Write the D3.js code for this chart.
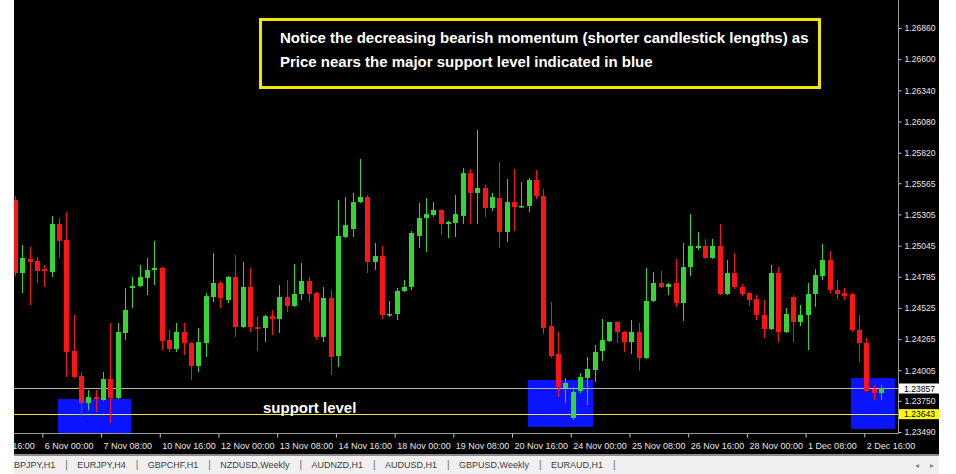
<!DOCTYPE html>
<html>
<head>
<meta charset="utf-8">
<script src="https://cdn.jsdelivr.net/npm/d3@7"></script>
<style>
  html, body { margin: 0; padding: 0; background: #ffffff; }
  svg { display: block; }
</style>
</head>
<body>
<div id="chart"></div>
<script>
// ---------------- DATA ----------------
// H4 candles, index 0 .. 118 (oldest to newest)
const opens = [
  1.25425,1.24816,1.24933,1.24917,1.24849,1.24824,1.25225,1.25092,1.24166,1.23957,
  1.23732,1.23782,1.23757,1.23932,1.23774,1.24316,1.24691,1.24708,1.24775,1.24841,
  1.24858,1.24257,1.24182,1.24324,1.24232,1.24041,1.24232,1.24616,1.24733,1.24591,
  1.24783,1.24366,1.24700,1.24366,1.24358,1.24457,1.24432,1.24616,1.24541,1.24641,
  1.24750,1.24649,1.24283,1.24608,1.24124,1.25117,1.25183,1.25408,1.25450,1.24908,
  1.24958,1.24466,1.24474,1.24666,1.24700,1.25125,1.25275,1.25300,1.25342,1.25225,
  1.25233,1.25292,1.25650,1.25484,1.25526,1.25358,1.25442,1.25158,1.25408,1.25367,
  1.25375,1.25592,1.25458,1.24374,1.24141,1.23857,1.23607,1.23832,1.23940,1.24007,
  1.24166,1.24249,1.24408,1.24324,1.24240,1.24324,1.24107,1.24583,1.24733,1.24700,
  1.24733,1.24566,1.24866,1.25025,1.25042,1.24942,1.25042,1.24641,1.24816,1.24700,
  1.24649,1.24599,1.24466,1.24349,1.24816,1.24324,1.24616,1.24408,1.24466,1.24641,
  1.24791,1.24925,1.24674,1.24649,1.24641,1.24341,1.24232,1.23849,1.23815
];
const highs = [
  1.25458,1.25050,1.25034,1.24950,1.24883,1.25292,1.25275,1.25325,1.24466,1.23990,
  1.23840,1.23840,1.23990,1.24399,1.24399,1.24691,1.24783,1.24883,1.24942,1.25084,
  1.24866,1.24341,1.24399,1.24399,1.24240,1.24358,1.24649,1.24983,1.24750,1.24791,
  1.24966,1.24908,1.24858,1.24450,1.24466,1.24508,1.24716,1.24758,1.24892,1.24900,
  1.24783,1.24658,1.24700,1.24674,1.25425,1.25450,1.25484,1.25767,1.25467,1.25067,
  1.25042,1.24583,1.24691,1.24758,1.25167,1.25400,1.25442,1.25408,1.25350,1.25250,
  1.25467,1.25692,1.25684,1.26009,1.25551,1.25484,1.25742,1.25600,1.25684,1.25575,
  1.25609,1.25675,1.25517,1.24574,1.24324,1.23940,1.23865,1.23982,1.24116,1.24216,
  1.24432,1.24408,1.24416,1.24332,1.24424,1.24399,1.24858,1.24824,1.24833,1.24733,
  1.24933,1.25067,1.25308,1.25158,1.25100,1.25100,1.25225,1.24925,1.24983,1.24724,
  1.24658,1.24632,1.24591,1.24883,1.24866,1.24525,1.24632,1.24549,1.24733,1.24849,
  1.25058,1.25000,1.24758,1.24691,1.24649,1.24466,1.24274,1.23882,1.23882
];
const lows = [
  1.24791,1.24649,1.24549,1.24733,1.24700,1.24783,1.24942,1.23949,1.23940,1.23615,
  1.23673,1.23656,1.23749,1.23565,1.23766,1.24257,1.24525,1.24700,1.24632,1.24716,
  1.24174,1.24157,1.24157,1.24132,1.23924,1.23990,1.24116,1.24574,1.24525,1.24566,
  1.24283,1.24358,1.24324,1.24166,1.24240,1.24299,1.24316,1.24491,1.24533,1.24591,
  1.24574,1.24257,1.24240,1.23965,1.24033,1.25108,1.25117,1.25400,1.24816,1.24841,
  1.24432,1.24449,1.24424,1.24658,1.24674,1.25025,1.24992,1.25283,1.25133,1.25108,
  1.25117,1.25225,1.25225,1.25225,1.25283,1.25333,1.25025,1.25075,1.25167,1.25358,
  1.25325,1.25434,1.24308,1.24107,1.23782,1.23732,1.23590,1.23815,1.23715,1.23907,
  1.24082,1.24240,1.24232,1.24157,1.24141,1.23999,1.24099,1.24574,1.24691,1.24632,
  1.24533,1.24416,1.24791,1.25008,1.24933,1.24933,1.24632,1.24632,1.24683,1.24624,
  1.24541,1.24424,1.24274,1.24341,1.24240,1.24316,1.24240,1.24374,1.24174,1.24533,
  1.24758,1.24649,1.24599,1.24591,1.24324,1.24074,1.23824,1.23757,1.23757
];
const closes = [
  1.24816,1.24942,1.24908,1.24833,1.24833,1.25225,1.25084,1.24157,1.23949,1.23732,
  1.23782,1.23765,1.23932,1.23774,1.24324,1.24508,1.24708,1.24783,1.24841,1.24858,
  1.24249,1.24182,1.24324,1.24232,1.24041,1.24240,1.24624,1.24733,1.24608,1.24783,
  1.24366,1.24700,1.24366,1.24349,1.24457,1.24432,1.24616,1.24541,1.24641,1.24750,
  1.24641,1.24283,1.24608,1.24116,1.25125,1.25216,1.25408,1.25450,1.24908,1.24958,
  1.24466,1.24474,1.24666,1.24700,1.25150,1.25275,1.25308,1.25342,1.25225,1.25242,
  1.25308,1.25650,1.25484,1.25526,1.25358,1.25450,1.25158,1.25408,1.25367,1.25375,
  1.25592,1.25458,1.24358,1.24124,1.23865,1.23899,1.23824,1.23949,1.24016,1.24157,
  1.24257,1.24408,1.24324,1.24240,1.24324,1.24107,1.24583,1.24733,1.24700,1.24724,
  1.24566,1.24866,1.25042,1.25042,1.24942,1.25042,1.24641,1.24816,1.24700,1.24641,
  1.24591,1.24466,1.24349,1.24816,1.24324,1.24474,1.24408,1.24466,1.24641,1.24799,
  1.24925,1.24674,1.24641,1.24624,1.24341,1.24232,1.23832,1.23815,1.23857
];

// price axis tick labels
const priceTicks = [1.26860,1.26600,1.26340,1.26080,1.25820,1.25565,1.25305,
                    1.25045,1.24785,1.24525,1.24265,1.24005,1.23750,1.23490];

// time axis: candle index and label
const timeTickIndex = [-4,4,12,20,28,36,44,52,60,68,76,84,92,100,108,116];
const timeTickLabels = ["4 Nov 16:00","6 Nov 00:00","7 Nov 08:00","10 Nov 16:00","12 Nov 00:00",
  "13 Nov 08:00","14 Nov 16:00","18 Nov 00:00","19 Nov 08:00","20 Nov 16:00","24 Nov 00:00",
  "25 Nov 08:00","26 Nov 16:00","28 Nov 00:00","1 Dec 08:00","2 Dec 16:00"];

// support zones (blue): candle index range and price range
const zoneStart = [5.85, 69.9, 113.9];
const zoneEnd   = [15.8, 78.8, 119.9];
const zoneTop   = [1.23765, 1.23924, 1.23940];
const zoneBottom= [1.23482, 1.23532, 1.23515];

const bidPrice = 1.23857;      // grey line / white label
const supportPrice = 1.23643;  // yellow line / yellow label

const tabs = ["GBPJPY,H1","EURJPY,H4","GBPCHF,H1","NZDUSD,Weekly","AUDNZD,H1","AUDUSD,H1","GBPUSD,Weekly","EURAUD,H1"];

const noteLines = ["Notice the decreasing bearish momentum (shorter candlestick lengths) as",
                   "Price nears the major support level indicated in blue"];

// ---------------- LAYOUT ----------------
const W = 956, H = 474;
const plotL = 14, plotR = 898, plotT = 0, plotB = 433;
const frameR = 939;
const UP = "#33d633", DOWN = "#ff1414";

const svg = d3.select("#chart").append("svg").attr("width", W).attr("height", H);

// white page, black chart window
svg.append("rect").attr("x",0).attr("y",0).attr("width",W).attr("height",H).attr("fill","#ffffff");
svg.append("rect").attr("x",plotL).attr("y",0).attr("width",frameR-plotL).attr("height",454).attr("fill","#000000");

const x = d3.scaleLinear().domain([0,118]).range([15,881]);
const y = d3.scaleLinear().domain([1.23490,1.26860]).range([432,28]);

svg.append("clipPath").attr("id","plotclip").append("rect")
  .attr("x",plotL).attr("y",plotT).attr("width",plotR-plotL).attr("height",plotB-plotT);

const plot = svg.append("g").attr("clip-path","url(#plotclip)");

// blue zones
plot.selectAll("rect.zone").data(zoneStart).join("rect").attr("class","zone")
  .attr("x",(d,i)=>x(zoneStart[i]))
  .attr("width",(d,i)=>x(zoneEnd[i])-x(zoneStart[i]))
  .attr("y",(d,i)=>y(zoneTop[i]))
  .attr("height",(d,i)=>y(zoneBottom[i])-y(zoneTop[i]))
  .attr("fill","#0a14ff");

// horizontal price lines
plot.append("line").attr("x1",plotL).attr("x2",plotR)
  .attr("y1",Math.round(y(bidPrice))+0.5).attr("y2",Math.round(y(bidPrice))+0.5)
  .attr("stroke","#b4b4b4").attr("stroke-width",1);
plot.append("line").attr("x1",plotL).attr("x2",plotR)
  .attr("y1",Math.round(y(supportPrice))+0.5).attr("y2",Math.round(y(supportPrice))+0.5)
  .attr("stroke","#e6e63c").attr("stroke-width",1);

// candles
const candles = opens.map((o,i)=>({i, o, h:highs[i], l:lows[i], c:closes[i]}));
const cg = plot.selectAll("g.candle").data(candles).join("g").attr("class","candle");
cg.append("line")
  .attr("x1",d=>Math.round(x(d.i))+0.5).attr("x2",d=>Math.round(x(d.i))+0.5)
  .attr("y1",d=>y(d.h)).attr("y2",d=>y(d.l))
  .attr("stroke",d=>d.c>=d.o?UP:DOWN).attr("stroke-width",1);
cg.append("rect")
  .attr("x",d=>Math.round(x(d.i))-2)
  .attr("width",5)
  .attr("y",d=>y(Math.max(d.o,d.c)))
  .attr("height",d=>Math.max(1.5, Math.abs(y(d.o)-y(d.c))))
  .attr("fill",d=>d.c>=d.o?UP:DOWN);

// "support level" label
plot.append("text").attr("x",263).attr("y",413)
  .attr("fill","#ffffff").attr("font-family","Liberation Sans, Arial, sans-serif")
  .attr("font-weight","bold").attr("font-size",15).text("support level");

// annotation box
svg.append("rect").attr("x",260.5).attr("y",19.5).attr("width",559).attr("height",68)
  .attr("fill","#000000").attr("stroke","#f5e600").attr("stroke-width",3);
svg.selectAll("text.note").data(noteLines).join("text").attr("class","note")
  .attr("x",280).attr("y",(d,i)=>42.5+i*24)
  .attr("fill","#ffffff").attr("font-family","Liberation Sans, Arial, sans-serif")
  .attr("font-weight","bold").attr("font-size",15).text(d=>d);

// price axis
const yAxis = d3.axisRight(y).tickValues(priceTicks).tickSize(3).tickPadding(3)
  .tickFormat(d3.format(".5f"));
const ya = svg.append("g").attr("transform",`translate(${plotR+0.5},0)`).call(yAxis);
ya.select(".domain").remove();
ya.selectAll(".tick line").attr("stroke","#c8c8c8");
ya.selectAll(".tick text").attr("fill","#e6e6e6")
  .attr("font-family","Liberation Sans, Arial, sans-serif").attr("font-size",8.6);
svg.append("line").attr("x1",plotR+0.5).attr("x2",plotR+0.5).attr("y1",0).attr("y2",plotB)
  .attr("stroke","#9a9a9a");

// price labels (bid / support)
function priceTag(p, bg){
  const yy = y(p);
  svg.append("rect").attr("x",plotR+1).attr("y",yy-4.5).attr("width",frameR-plotR-1).attr("height",10).attr("fill",bg);
  svg.append("text").attr("x",plotR+6).attr("y",yy+3.5).attr("fill","#000")
    .attr("font-family","Liberation Sans, Arial, sans-serif").attr("font-size",8.6).text(d3.format(".5f")(p));
}
priceTag(bidPrice,"#ffffff");
priceTag(supportPrice,"#ffff00");

// time axis
const xAxis = d3.axisBottom(x).tickValues(timeTickIndex).tickSize(4).tickPadding(0)
  .tickFormat((d,i)=>timeTickLabels[i]);
svg.append("clipPath").attr("id","xclip").append("rect")
  .attr("x",plotL).attr("y",plotB).attr("width",frameR-plotL).attr("height",21);
const xa = svg.append("g").attr("clip-path","url(#xclip)").append("g")
  .attr("transform",`translate(-2,${plotB+0.5})`).call(xAxis);
xa.select(".domain").remove();
xa.selectAll(".tick line").attr("stroke","#c8c8c8");
xa.selectAll(".tick text").attr("fill","#e6e6e6").attr("text-anchor","start")
  .attr("x",2).attr("dy","0").attr("y",15)
  .attr("font-family","Liberation Sans, Arial, sans-serif").attr("font-size",9);
svg.append("line").attr("x1",plotL).attr("x2",plotR+1).attr("y1",plotB+0.5).attr("y2",plotB+0.5)
  .attr("stroke","#9a9a9a");

// tab bar
svg.append("rect").attr("x",plotL).attr("y",454).attr("width",frameR-plotL).attr("height",2).attr("fill","#8c8c8c");
svg.append("rect").attr("x",plotL).attr("y",456).attr("width",frameR-plotL).attr("height",18).attr("fill","#f0f0f0");
svg.append("clipPath").attr("id","tabclip").append("rect")
  .attr("x",plotL).attr("y",456).attr("width",frameR-plotL).attr("height",18);
const tg = svg.append("g").attr("clip-path","url(#tabclip)");
let tx = 7;
tabs.forEach((t)=>{
  const txt = tg.append("text").attr("x",tx).attr("y",467.5).attr("fill","#3c3c3c")
    .attr("font-family","Liberation Sans, Arial, sans-serif").attr("font-size",9).text(t);
  const w = txt.node().getComputedTextLength();
  tg.append("text").attr("x",tx+w+10).attr("y",468).attr("fill","#6a6a6a")
    .attr("font-family","Liberation Sans, Arial, sans-serif").attr("font-size",10).text("|");
  tx = tx + w + 22;
});
tg.append("text").attr("x",915).attr("y",467.5).attr("fill","#8a8a8a").attr("font-size",8).text("◂");
tg.append("text").attr("x",930).attr("y",467.5).attr("fill","#8a8a8a").attr("font-size",8).text("▸");
</script>
</body>
</html>
